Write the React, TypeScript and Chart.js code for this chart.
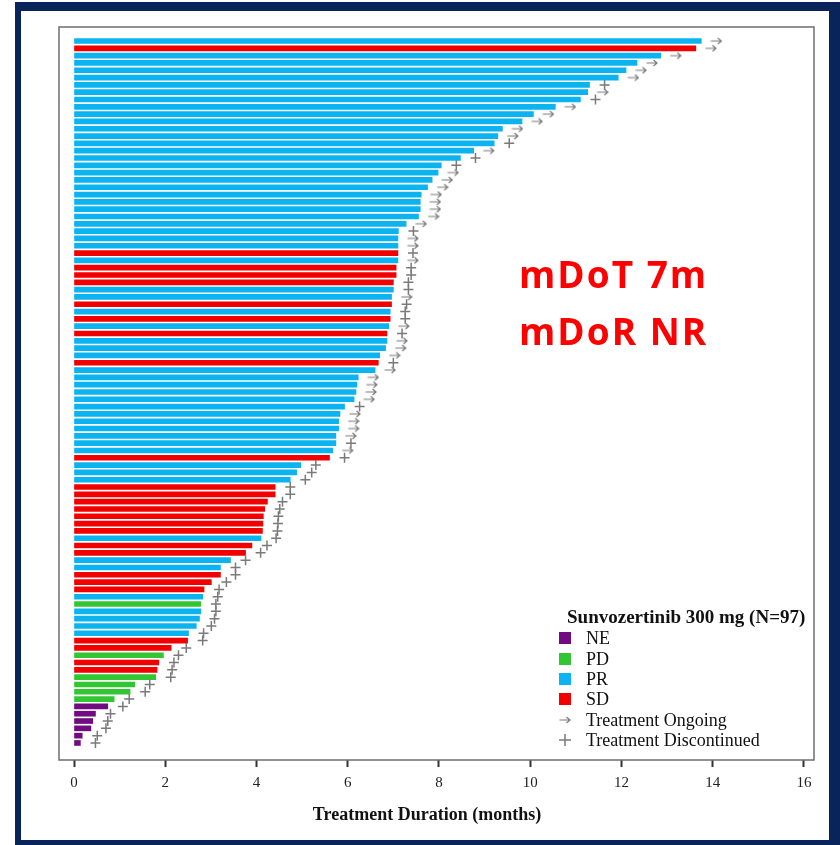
import React, { useEffect, useRef } from "react";
import { Chart, registerables } from "chart.js";

Chart.register(...registerables);

// Treatment duration (months), one entry per patient, top to bottom
const durations: number[] = [
  13.75, 13.63, 12.86, 12.34, 12.1, 11.93, 11.3, 11.26, 11.1, 10.55,
  10.07, 9.82, 9.39, 9.29, 9.21, 8.76, 8.47, 8.05, 7.98, 7.85,
  7.75, 7.61, 7.59, 7.59, 7.55, 7.28, 7.11, 7.1, 7.1, 7.1,
  7.1, 7.06, 7.06, 7.0, 7.0, 6.96, 6.96, 6.93, 6.93, 6.9,
  6.86, 6.86, 6.83, 6.7, 6.67, 6.6, 6.23, 6.2, 6.18, 6.14,
  5.93, 5.83, 5.8, 5.8, 5.74, 5.74, 5.67, 5.6, 4.97, 4.88,
  4.74, 4.41, 4.41, 4.24, 4.18, 4.15, 4.14, 4.13, 4.1, 3.9,
  3.76, 3.43, 3.21, 3.21, 3.01, 2.85, 2.82, 2.78, 2.78, 2.75,
  2.68, 2.51, 2.49, 2.13, 1.96, 1.86, 1.82, 1.79, 1.33, 1.23,
  0.88, 0.74, 0.47, 0.41, 0.37, 0.18, 0.14,
];

// Best response per patient
const responses: string[] = [
  "PR", "SD", "PR", "PR", "PR", "PR", "PR", "PR", "PR", "PR",
  "PR", "PR", "PR", "PR", "PR", "PR", "PR", "PR", "PR", "PR",
  "PR", "PR", "PR", "PR", "PR", "PR", "PR", "PR", "PR", "SD",
  "PR", "SD", "SD", "SD", "PR", "PR", "SD", "PR", "SD", "PR",
  "SD", "PR", "PR", "PR", "SD", "PR", "PR", "PR", "PR", "PR",
  "PR", "PR", "PR", "PR", "PR", "PR", "PR", "SD", "PR", "PR",
  "PR", "SD", "SD", "SD", "SD", "SD", "SD", "SD", "PR", "SD",
  "SD", "PR", "PR", "SD", "SD", "SD", "PR", "PD", "PR", "PR",
  "PR", "PR", "SD", "SD", "PD", "SD", "SD", "PD", "PD", "PD",
  "PD", "NE", "NE", "NE", "NE", "NE", "NE",
];

// Treatment status: O = ongoing, D = discontinued
const statuses: string[] = [
  "O", "O", "O", "O", "O", "O", "D", "O", "D", "O",
  "O", "O", "O", "O", "D", "O", "D", "D", "O", "O",
  "O", "O", "O", "O", "O", "O", "D", "O", "O", "D",
  "O", "D", "D", "D", "D", "O", "D", "D", "D", "O",
  "D", "O", "O", "O", "D", "O", "O", "O", "O", "O",
  "D", "O", "O", "O", "O", "D", "O", "D", "D", "D",
  "D", "D", "D", "D", "D", "D", "D", "D", "D", "D",
  "D", "D", "D", "D", "D", "D", "D", "D", "D", "D",
  "D", "D", "D", "D", "D", "D", "D", "D", "D", "D",
  "D", "D", "D", "D", "D", "D", "D",
];

const xTicks: number[] = [0, 2, 4, 6, 8, 10, 12, 14, 16];

const responseLabels: string[] = ["NE", "PD", "PR", "SD"];
const responseColors: string[] = ["#700c80", "#33c633", "#0bb3f0", "#f20000"];

const legendTitle = "Sunvozertinib 300 mg (N=97)";
const ongoingLabel = "Treatment Ongoing";
const discontinuedLabel = "Treatment Discontinued";
const xTitle = "Treatment Duration (months)";
const noteLines: string[] = ["mDoT 7m", "mDoR NR"];

const MARK_GAP = 0.33;
const SERIF = "'Liberation Serif', 'Times New Roman', serif";
const MARK_COLOR = "#7a7a7a";

function makeArrow(): HTMLCanvasElement {
  const c = document.createElement("canvas");
  c.width = 12;
  c.height = 8;
  const g = c.getContext("2d")!;
  g.strokeStyle = MARK_COLOR;
  g.lineWidth = 1.2;
  g.beginPath();
  g.moveTo(0.5, 4);
  g.lineTo(11, 4);
  g.moveTo(7.5, 1);
  g.lineTo(11, 4);
  g.lineTo(7.5, 7);
  g.stroke();
  return c;
}

function colorOf(r: string): string {
  return responseColors[responseLabels.indexOf(r)];
}

export default function App() {
  const ref = useRef<HTMLCanvasElement | null>(null);

  useEffect(() => {
    if (!ref.current) return;
    const arrow = makeArrow();

    const barData = durations.map((d, i) => ({ x: d, y: i + 1 }));
    const ongoing = durations
      .map((d, i) => ({ x: d + MARK_GAP, y: i + 1, s: statuses[i] }))
      .filter((p) => p.s === "O")
      .map(({ x, y }) => ({ x, y }));
    const disc = durations
      .map((d, i) => ({ x: d + MARK_GAP, y: i + 1, s: statuses[i] }))
      .filter((p) => p.s === "D")
      .map(({ x, y }) => ({ x, y }));

    const framePlugin = {
      id: "frameAndLegend",
      afterDraw(chart: any) {
        const { ctx, chartArea } = chart;
        ctx.save();
        ctx.strokeStyle = "#6e6e6e";
        ctx.lineWidth = 1.5;
        ctx.strokeRect(
          chartArea.left,
          chartArea.top,
          chartArea.right - chartArea.left,
          chartArea.bottom - chartArea.top
        );

        // axis title
        ctx.fillStyle = "#111";
        ctx.textAlign = "center";
        ctx.textBaseline = "middle";
        ctx.font = `bold 18px ${SERIF}`;
        ctx.fillText(xTitle, 427, 815);

        // legend
        const lx = 559;
        const tx = 586;
        ctx.textAlign = "left";
        ctx.font = `bold 19px ${SERIF}`;
        ctx.fillText(legendTitle, 567, 618);
        ctx.font = `18px ${SERIF}`;
        const rowY = [638, 659, 679, 699, 720, 740];
        responseLabels.forEach((lab, i) => {
          ctx.fillStyle = responseColors[i];
          ctx.fillRect(lx, rowY[i] - 6, 12, 12);
          ctx.fillStyle = "#111";
          ctx.fillText(lab, tx, rowY[i] + 1);
        });
        ctx.drawImage(arrow, lx, rowY[4] - 4);
        ctx.fillText(ongoingLabel, tx, rowY[4] + 1);
        ctx.strokeStyle = MARK_COLOR;
        ctx.lineWidth = 1.5;
        ctx.beginPath();
        ctx.moveTo(lx, rowY[5]);
        ctx.lineTo(lx + 12, rowY[5]);
        ctx.moveTo(lx + 6, rowY[5] - 6);
        ctx.lineTo(lx + 6, rowY[5] + 6);
        ctx.stroke();
        ctx.fillStyle = "#111";
        ctx.fillText(discontinuedLabel, tx, rowY[5] + 1);
        ctx.restore();
      },
    };

    const chart = new Chart(ref.current, {
      type: "bar",
      data: {
        datasets: [
          {
            type: "bar",
            data: barData as any,
            backgroundColor: responses.map(colorOf),
            barThickness: 5,
            borderWidth: 0,
            order: 2,
          } as any,
          {
            type: "scatter",
            data: ongoing as any,
            pointStyle: arrow as any,
            pointRadius: 5,
            order: 1,
          } as any,
          {
            type: "scatter",
            data: disc as any,
            pointStyle: "cross",
            pointRadius: 5,
            borderColor: MARK_COLOR,
            borderWidth: 1.5,
            order: 1,
          } as any,
        ],
      },
      options: {
        indexAxis: "y",
        animation: false,
        responsive: false,
        maintainAspectRatio: false,
        events: [],
        layout: { padding: { left: 59, top: 27, right: 26, bottom: 0 } },
        plugins: {
          legend: { display: false },
          tooltip: { enabled: false },
        },
        scales: {
          x: {
            type: "linear",
            min: -0.329,
            max: 16.22,
            offset: false,
            afterBuildTicks: (s: any) => {
              s.ticks = xTicks.map((v) => ({ value: v }));
            },
            afterFit: (s: any) => {
              s.height = 85;
            },
            grid: {
              drawOnChartArea: false,
              drawTicks: true,
              tickLength: 7,
              tickWidth: 2,
              tickColor: "#333",
            },
            border: { display: false },
            ticks: {
              color: "#222",
              padding: 7,
              maxRotation: 0,
              font: { family: SERIF, size: 15 },
            },
            title: { display: false },
          },
          y: {
            type: "linear",
            reverse: true,
            offset: false,
            grace: 0,
            min: -0.915,
            max: 99.33,
            display: false,
          },
        },
      },
      plugins: [framePlugin],
    } as any);

    return () => chart.destroy();
  }, []);

  return (
    <div
      style={{
        position: "fixed",
        left: 0,
        top: 0,
        width: 840,
        height: 845,
        background: "#ffffff",
        overflow: "hidden",
      }}
    >
      <div
        style={{
          position: "absolute",
          left: 15,
          top: 2,
          width: 825,
          height: 843,
          background: "#08245a",
        }}
      />
      <div
        style={{
          position: "absolute",
          left: 21,
          top: 11,
          width: 808,
          height: 829,
          background: "#ffffff",
        }}
      />
      <canvas
        ref={ref}
        width={840}
        height={845}
        style={{ position: "absolute", left: 0, top: 0, width: 840, height: 845, display: "block" }}
      />
      {noteLines.map((t, i) => (
        <div
          key={t}
          style={{
            position: "absolute",
            left: 519,
            top: 251 + i * 57,
            fontFamily: "'Open Sans', sans-serif",
            fontWeight: 700,
            fontSize: 37,
            letterSpacing: 2,
            lineHeight: "46px",
            color: "#ff0000",
            whiteSpace: "nowrap",
          }}
        >
          {t}
        </div>
      ))}
    </div>
  );
}
